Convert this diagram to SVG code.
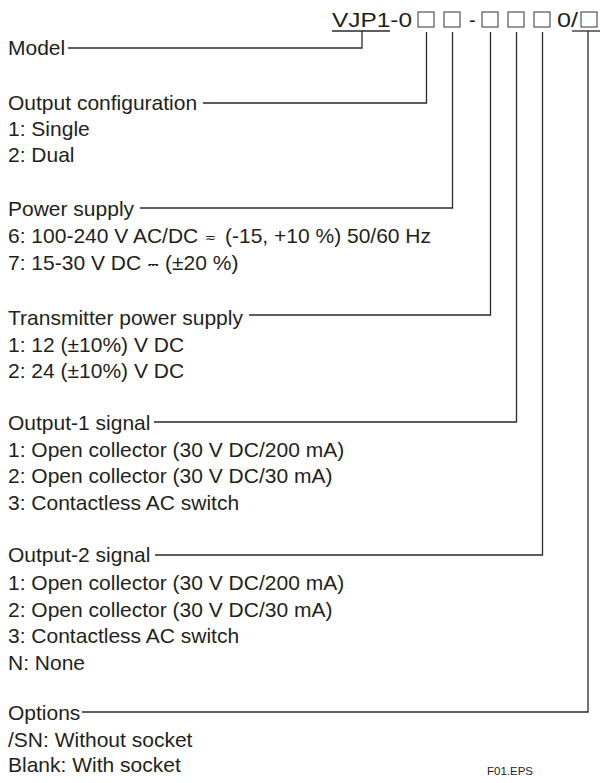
<svg xmlns="http://www.w3.org/2000/svg" width="604" height="783" viewBox="0 0 604 783">
<style>
text{font-family:"Liberation Sans",Arial,sans-serif;font-size:21px;fill:#231f20}
.hd{font-size:20px}
.sym{font-family:"DejaVu Sans",sans-serif;font-size:13px}
.small{font-size:11.5px}
.ln{fill:none;stroke:#2a2a2a;stroke-width:1.3}
.box{fill:none;stroke:#333;stroke-width:1}
</style>
<rect width="604" height="783" fill="#fff"/>
<g id="header">
<text class="hd" x="332" y="27" textLength="80" lengthAdjust="spacingAndGlyphs">VJP1-0</text>
<rect class="box" x="418" y="12" width="16" height="15"/>
<rect class="box" x="444" y="12" width="16" height="15"/>
<text class="hd" x="469" y="27">-</text>
<rect class="box" x="482" y="12" width="16" height="15"/>
<rect class="box" x="508" y="12" width="16" height="15"/>
<rect class="box" x="534" y="12" width="16" height="15"/>
<text class="hd" x="557" y="27" textLength="21" lengthAdjust="spacingAndGlyphs">0/</text>
<rect class="box" x="581" y="12" width="16" height="15"/>
<line class="ln" x1="332" y1="31" x2="390" y2="31"/>
<line class="ln" x1="572" y1="31" x2="600" y2="31"/>
</g>
<g id="model"><text x="8" y="55">Model</text></g>
<g id="output-configuration">
<text x="8" y="110">Output configuration</text>
<text x="8" y="136">1: Single</text>
<text x="8" y="162">2: Dual</text>
</g>
<g id="power-supply">
<text x="8" y="216">Power supply</text>
<text x="8" y="243">6: 100-240 V AC/DC</text>
<text class="sym" x="205" y="242">≂</text>
<text x="225" y="243">(-15, +10 %) 50/60 Hz</text>
<text x="8" y="270">7: 15-30 V DC</text>
<text class="sym" x="148" y="269">⎓</text>
<text x="165" y="270">(±20 %)</text>
</g>
<g id="transmitter-power-supply">
<text x="8" y="325">Transmitter power supply</text>
<text x="8" y="352">1: 12 (±10%) V DC</text>
<text x="8" y="378">2: 24 (±10%) V DC</text>
</g>
<g id="output-1-signal">
<text x="8" y="430">Output-1 signal</text>
<text x="8" y="457">1: Open collector (30 V DC/200 mA)</text>
<text x="8" y="483">2: Open collector (30 V DC/30 mA)</text>
<text x="8" y="510">3: Contactless AC switch</text>
</g>
<g id="output-2-signal">
<text x="8" y="562">Output-2 signal</text>
<text x="8" y="590">1: Open collector (30 V DC/200 mA)</text>
<text x="8" y="617">2: Open collector (30 V DC/30 mA)</text>
<text x="8" y="643">3: Contactless AC switch</text>
<text x="8" y="670">N: None</text>
</g>
<g id="options">
<text x="8" y="720">Options</text>
<text x="8" y="747">/SN: Without socket</text>
<text x="8" y="772">Blank: With socket</text>
</g>
<g id="figure-label"><text class="small" x="487" y="775">F01.EPS</text></g>
<g id="connectors">
<polyline class="ln" points="68,48 362,48 362,31"/>
<polyline class="ln" points="203,103 426.5,103 426.5,32"/>
<polyline class="ln" points="140,208 452.5,208 452.5,32"/>
<polyline class="ln" points="249,315 490.5,315 490.5,32"/>
<polyline class="ln" points="154,422 516.5,422 516.5,32"/>
<polyline class="ln" points="155,555 542.5,555 542.5,32"/>
<polyline class="ln" points="82,712 588,712 588,31"/>
</g>
</svg>
